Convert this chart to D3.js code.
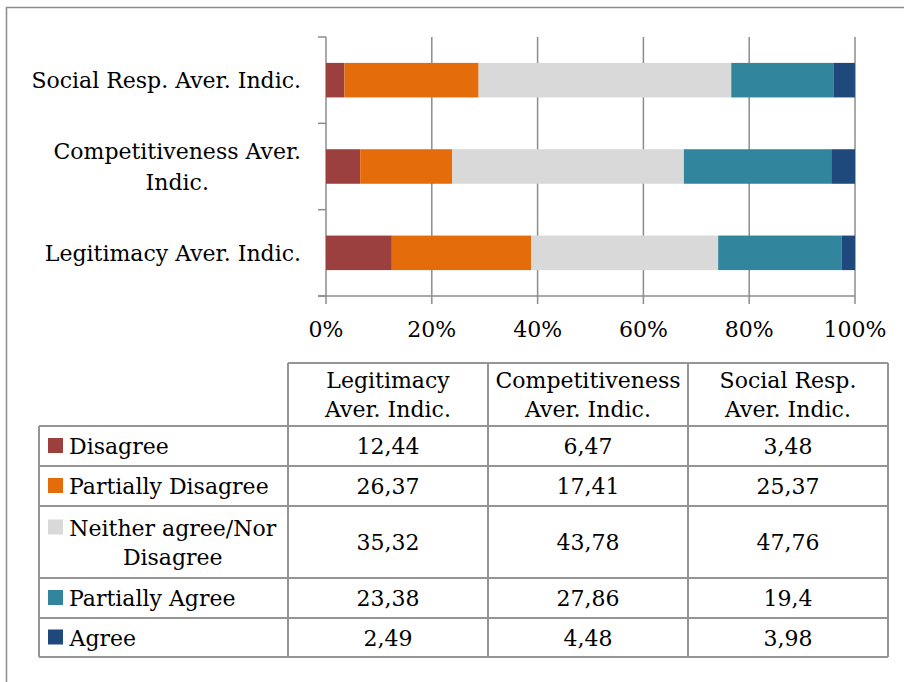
<!DOCTYPE html>
<html>
<head>
<meta charset="utf-8" />
<title>Average indicators</title>
<script src="https://d3js.org/d3.v7.min.js"></script>
<style>
  body { margin: 0; background: #fff; }
  svg text { font-family: "DejaVu Serif", serif; fill: #000; }
</style>
</head>
<body>
<script type="text/javascript">
// chart values
var categories = ['Legitimacy Aver. Indic.', 'Competitiveness Aver. Indic.', 'Social Resp. Aver. Indic.'];
var barLabels = [['Legitimacy Aver. Indic.'], ['Competitiveness Aver.', 'Indic.'], ['Social Resp. Aver. Indic.']];
var headerLabels = [['Legitimacy', 'Aver. Indic.'], ['Competitiveness', 'Aver. Indic.'], ['Social Resp.', 'Aver. Indic.']];
var seriesNames = ['Disagree', 'Partially Disagree', 'Neither agree/Nor Disagree', 'Partially Agree', 'Agree'];
var seriesLabels = [['Disagree'], ['Partially Disagree'], ['Neither agree/Nor', 'Disagree'], ['Partially Agree'], ['Agree']];
var disagree = [12.44, 6.47, 3.48];
var partDisagree = [26.37, 17.41, 25.37];
var neither = [35.32, 43.78, 47.76];
var partAgree = [23.38, 27.86, 19.4];
var agree = [2.49, 4.48, 3.98];
var valueText = [['12,44', '6,47', '3,48'], ['26,37', '17,41', '25,37'], ['35,32', '43,78', '47,76'],
                 ['23,38', '27,86', '19,4'], ['2,49', '4,48', '3,98']];
var ticks = [0, 0.2, 0.4, 0.6, 0.8, 1];
var colors = ['#9b3f3f', '#e46c0a', '#d9d9d9', '#31859c', '#1f497d'];

var series = [disagree, partDisagree, neither, partAgree, agree];

var width = 904, height = 682;
var fs = 22;

var svg = d3.select('body').append('svg')
    .attr('width', width)
    .attr('height', height);

// outer frame
svg.append('rect')
    .attr('x', 6.5).attr('y', 7.5)
    .attr('width', 920).attr('height', 700)
    .attr('fill', 'none')
    .attr('stroke', '#8c8c8c')
    .attr('stroke-width', 1.5);

var x = d3.scaleLinear().domain([0, 1]).range([326, 855]);
var y = d3.scaleBand()
    .domain(categories.slice().reverse())
    .range([37, 296])
    .paddingInner(0.6)
    .paddingOuter(0.3);

var gridColor = '#8c8c8c';

// gridlines + bottom ticks
svg.selectAll('.grid')
    .data(ticks)
    .enter()
    .append('line')
    .attr('class', 'grid')
    .attr('x1', d => x(d)).attr('x2', d => x(d))
    .attr('y1', 37).attr('y2', 304)
    .attr('stroke', gridColor)
    .attr('stroke-width', 1.5);

// bottom axis line
svg.append('line')
    .attr('x1', 318).attr('x2', x(1))
    .attr('y1', 296).attr('y2', 296)
    .attr('stroke', gridColor).attr('stroke-width', 1.5);

// category ticks on the left axis
var step = y.step();
var bounds = categories.map(c => y(c) - step * 0.3).concat([296]);
svg.selectAll('.ctick')
    .data(bounds)
    .enter()
    .append('line')
    .attr('x1', 318).attr('x2', 326)
    .attr('y1', d => d).attr('y2', d => d)
    .attr('stroke', gridColor).attr('stroke-width', 1.5);

// stacked bars
var rows = categories.map(function (c, i) {
    var o = { cat: c };
    seriesNames.forEach(function (s, j) { o[s] = series[j][i] / 100; });
    return o;
});
var stack = d3.stack().keys(seriesNames)(rows);

stack.forEach(function (layer, j) {
    svg.append('g')
        .selectAll('rect')
        .data(layer)
        .enter()
        .append('rect')
        .attr('x', d => x(d[0]))
        .attr('width', d => x(d[1]) - x(d[0]))
        .attr('y', d => y(d.data.cat))
        .attr('height', y.bandwidth())
        .attr('fill', colors[j]);
});

// x tick labels
svg.selectAll('.xlab')
    .data(ticks)
    .enter()
    .append('text')
    .attr('x', d => x(d))
    .attr('y', 337)
    .attr('text-anchor', 'middle')
    .style('font-size', fs + 'px')
    .text(d => Math.round(d * 100) + '%');

// multi-line centred text block; returns the text node
function block(parent, lines, firstY, lh) {
    var t = parent.append('text')
        .attr('text-anchor', 'middle')
        .style('font-size', fs + 'px');
    t.selectAll('tspan')
        .data(lines)
        .enter()
        .append('tspan')
        .attr('x', 0)
        .attr('y', (d, k) => firstY + k * lh)
        .text(d => d);
    return t;
}

// category labels, block right-aligned at x=301
categories.forEach(function (c, i) {
    var lines = barLabels[i];
    var cy = y(c) + y.bandwidth() / 2;
    var lh = 31;
    var t = block(svg, lines, cy - (lines.length - 1) / 2 * lh + 8, lh);
    var w = t.node().getBBox().width;
    t.selectAll('tspan').attr('x', 301 - w / 2);
});

// data table
var colX = [288, 488, 688, 888];
var legendLeft = 39;
var rowY = [363, 426, 466, 506, 578, 618, 657];
var tableColor = '#959595';

var tbl = svg.append('g');

tbl.append('line').attr('x1', colX[0]).attr('x2', colX[3]).attr('y1', rowY[0]).attr('y2', rowY[0]);
colX.forEach(function (cx) {
    tbl.append('line').attr('x1', cx).attr('x2', cx).attr('y1', rowY[0]).attr('y2', rowY[rowY.length - 1]);
});
tbl.append('line').attr('x1', legendLeft).attr('x2', legendLeft).attr('y1', rowY[1]).attr('y2', rowY[rowY.length - 1]);
rowY.slice(1).forEach(function (ry) {
    tbl.append('line').attr('x1', legendLeft).attr('x2', colX[3]).attr('y1', ry).attr('y2', ry);
});
tbl.selectAll('line')
    .attr('stroke', tableColor)
    .attr('stroke-width', 2);

// header text
headerLabels.forEach(function (lines, i) {
    var t = block(tbl, lines, 388, 29);
    t.selectAll('tspan').attr('x', (colX[i] + colX[i + 1]) / 2);
});

// legend rows + values
seriesLabels.forEach(function (lines, j) {
    var top = rowY[j + 1], bot = rowY[j + 2];
    var cy = (top + bot) / 2;
    var lh = 29;
    var firstY = cy - (lines.length - 1) / 2 * lh;
    tbl.append('rect')
        .attr('x', 48).attr('y', firstY - 8)
        .attr('width', 15).attr('height', 15)
        .attr('fill', colors[j]);
    var t = block(tbl, lines, firstY + 8, lh);
    var w = t.node().getBBox().width;
    t.selectAll('tspan').attr('x', 69 + w / 2);

    valueText[j].forEach(function (v, i) {
        tbl.append('text')
            .attr('x', (colX[i] + colX[i + 1]) / 2)
            .attr('y', cy + 8)
            .attr('text-anchor', 'middle')
            .style('font-size', fs + 'px')
            .text(v);
    });
});
</script>
</body>
</html>
